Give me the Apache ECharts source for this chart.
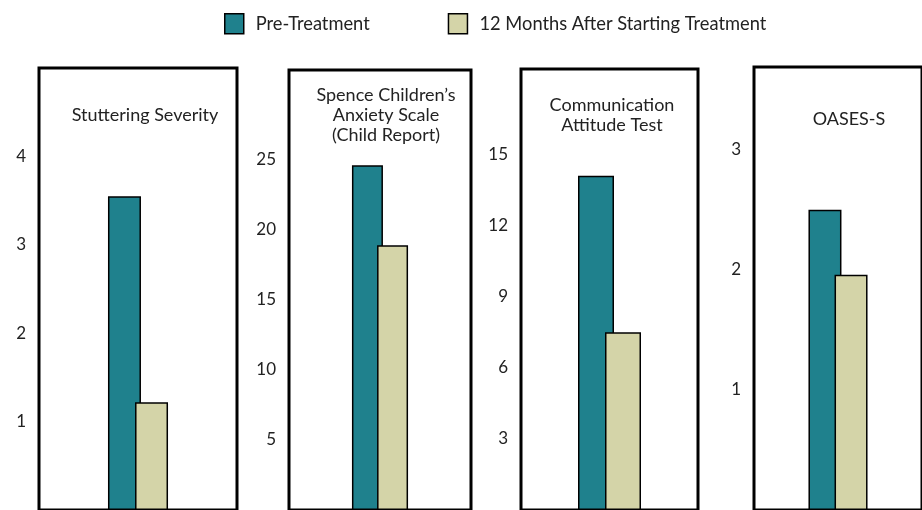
<!DOCTYPE html>
<html>
<head>
<meta charset="utf-8">
<script src="https://cdn.jsdelivr.net/npm/echarts@6/dist/echarts.min.js"></script>
<style>html,body{margin:0;padding:0;background:#fff}#c{width:922px;height:510px}</style>
</head>
<body>
<div id="c"></div>
<script>
// ---- data ----
var seriesNames = ['Pre-Treatment', '12 Months After Starting Treatment'];
var panelTitles = ['Stuttering Severity', 'Spence Children\u2019s\nAnxiety Scale\n(Child Report)', 'Communication\nAttitude Test', 'OASES-S'];
var preTreatment = [3.55, 24.6, 14.1, 2.5];
var after12Months = [1.22, 18.9, 7.5, 1.96];
var tickLabels1 = [1, 2, 3, 4];
var tickLabels2 = [5, 10, 15, 20, 25];
var tickLabels3 = [3, 6, 9, 12, 15];
var tickLabels4 = [1, 2, 3];
var axisMax = [5, 31.4, 18.6, 3.69];

// ---- layout ----
var FONT = 'Lato';
var colors = ['#1f818d', '#d4d4a8'];
var panels = [
  {left: 39, width: 198, top: 68, zero: 513, ticks: tickLabels1, barW: 33, gap: '-18%', tx: 140, ty: 115},
  {left: 289, width: 182, top: 70, zero: 512, ticks: tickLabels2, barW: 31, gap: '-19%', tx: 381, ty: 95},
  {left: 521, width: 177, top: 69, zero: 519, ticks: tickLabels3, barW: 36, gap: '-25%', tx: 607, ty: 105},
  {left: 754, width: 179, top: 67, zero: 512, ticks: tickLabels4, barW: 33, gap: '-21%', tx: 844, ty: 119}
];

var grid = [], xAxis = [], yAxis = [], series = [], title = [];
panels.forEach(function (p, i) {
  grid.push({left: p.left, top: p.top, width: p.width, height: p.zero - p.top,
    show: true, borderColor: '#000', borderWidth: 3, backgroundColor: 'transparent', containLabel: false});
  xAxis.push({type: 'category', gridIndex: i, data: [''], axisLine: {show: false}, axisTick: {show: false}, axisLabel: {show: false}});
  yAxis.push({type: 'value', gridIndex: i, min: 0, max: axisMax[i],
    axisLine: {show: false}, axisTick: {show: false}, splitLine: {show: false},
    axisLabel: {customValues: p.ticks, margin: 13, color: '#222', fontFamily: FONT, fontSize: 17}});
  series.push({name: seriesNames[0], type: 'bar', xAxisIndex: i, yAxisIndex: i, data: [preTreatment[i]],
    barWidth: p.barW, barGap: p.gap, itemStyle: {color: colors[0], borderColor: '#000', borderWidth: 1.5}, z: 2});
  series.push({name: seriesNames[1], type: 'bar', xAxisIndex: i, yAxisIndex: i, data: [after12Months[i]],
    barWidth: p.barW, barGap: p.gap, itemStyle: {color: colors[1], borderColor: '#000', borderWidth: 1.5}, z: 3});
  title.push({text: panelTitles[i], left: p.tx, top: p.ty - 15, textAlign: 'center',
    textStyle: {fontFamily: FONT, fontWeight: 'normal', fontSize: 18, color: '#222', lineHeight: 20}});
});

var chart = echarts.init(document.getElementById('c'));
chart.setOption({
  animation: false,
  title: title,
  legend: {
    data: seriesNames, top: 13, left: 224, padding: 0, itemWidth: 19, itemHeight: 20, itemGap: 78,
    icon: 'rect',
    itemStyle: {borderColor: '#000', borderWidth: 1.5},
    textStyle: {fontFamily: FONT, fontSize: 18.3, color: '#222', padding: [0, 0, 0, 7]}
  },
  grid: grid, xAxis: xAxis, yAxis: yAxis, series: series
});
</script>
</body>
</html>
